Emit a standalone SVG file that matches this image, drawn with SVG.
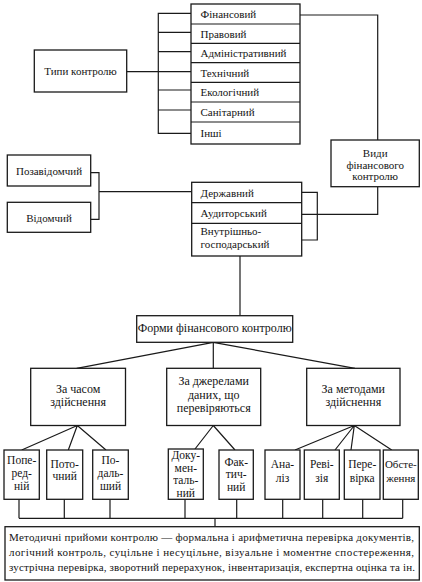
<svg xmlns="http://www.w3.org/2000/svg" width="422" height="582" viewBox="0 0 422 582">
<style>
.box{fill:#fff;stroke:#1a1a1a;stroke-width:1.3}
.ln{fill:none;stroke:#1a1a1a;stroke-width:1.2}
text{font-family:'Liberation Serif','DejaVu Serif',serif;font-size:11px;fill:#141414}
.c{text-anchor:middle}
.m{font-size:12px}
.l{font-size:11.5px}
</style>
<rect width="422" height="582" fill="#fff"/>
<g id="connectors">
<path class="ln" d="M191.7 13.3 H158.3 V133.3 H191.7 M158.3 32.3 H191.7 M158.3 51.7 H191.7 M158.3 90 H191.7 M158.3 110 H191.7"/>
<path class="ln" d="M126.7 71.7 H191.7"/>
<path class="ln" d="M300 15 H377.7 V140"/>
<path class="ln" d="M90.7 172.7 H99 V219.3 H90.7 M99 191.7 H191.7"/>
<path class="ln" d="M301.7 192.3 H317.3 V240 H301.7"/>
<path class="ln" d="M301.7 214.3 H377.7 V186.7"/>
<path class="ln" d="M240 256 V315.7"/>
<path class="ln" d="M213.3 342.3 L76.7 368.3 M213.3 342.3 V368.3 M213.3 342.3 L355 368.3"/>
<path class="ln" d="M77.3 425.5 L21.7 450 M77.3 425.5 L68.3 450 M77.3 425.5 L106 450"/>
<path class="ln" d="M213.3 425.5 L195 449 M213.3 425.5 L235 450"/>
<path class="ln" d="M354.3 425.5 L295 450 M354.3 425.5 L335 450 M354.3 425.5 L351 450 M354.3 425.5 L391.7 450"/>
<path class="ln" d="M19 499.3 V518.3 M64.3 499.3 V518.3 M110 499.3 V518.3 M185 499.3 V518.3 M236.7 499.3 V518.3 M282.7 499.3 V518.3 M322.7 499.3 V518.3 M362.7 499.3 V518.3 M402.7 499.3 V518.3 M19 518.3 H402.7 M215 518.3 V526.7"/>
</g>
<g id="types-list">
<rect class="box" x="191" y="4" width="109" height="140"/>
<path class="ln" d="M191 24 H300 M191 43.3 H300 M191 62.7 H300 M191 82.3 H300 M191 102 H300 M191 122 H300"/>
<text x="200.5" y="18">Фінансовий</text>
<text x="200.5" y="37.5">Правовий</text>
<text x="200.5" y="57">Адміністративний</text>
<text x="200.5" y="76.5">Технічний</text>
<text x="200.5" y="96">Екологічний</text>
<text x="200.5" y="115.8">Санітарний</text>
<text x="200.5" y="137">Інші</text>
</g>
<g id="types">
<rect class="box" x="34.3" y="50" width="92.4" height="42"/>
<text class="c" x="80.5" y="75">Типи контролю</text>
</g>
<g id="kinds">
<rect class="box" x="331" y="140" width="88.3" height="46.7"/>
<text class="c" x="375.2" y="157">Види</text>
<text class="c" x="375.2" y="168.5">фінансового</text>
<text class="c" x="375.2" y="180">контролю</text>
</g>
<g id="outside">
<rect class="box" x="7.3" y="155" width="83.4" height="31"/>
<text class="c" x="49" y="174.5">Позавідомчий</text>
</g>
<g id="internal-dept">
<rect class="box" x="7.3" y="202.3" width="83.4" height="30"/>
<text class="c" x="49" y="221.5">Відомчий</text>
</g>
<g id="kinds-list">
<rect class="box" x="191.7" y="182.3" width="110" height="73.7"/>
<path class="ln" d="M191.7 202.7 H301.7 M191.7 223.3 H301.7"/>
<text x="200.5" y="196.5">Державний</text>
<text x="200.5" y="217">Аудиторський</text>
<text x="200.5" y="234.5">Внутрішньо-</text>
<text x="200.5" y="248">господарський</text>
</g>
<g id="forms">
<rect class="box" x="136.7" y="315.7" width="156" height="26.6"/>
<text class="c m" x="214.7" y="331.5">Форми фінансового контролю</text>
</g>
<g id="by-time">
<rect class="box" x="30.7" y="368.3" width="94.8" height="57.2"/>
<text class="c m" x="78.1" y="393">За часом</text>
<text class="c m" x="78.1" y="406">здійснення</text>
</g>
<g id="by-sources">
<rect class="box" x="166.7" y="368.3" width="94" height="57.2"/>
<text class="c m" x="213.7" y="385">За джерелами</text>
<text class="c m" x="213.7" y="399">даних, що</text>
<text class="c m" x="213.7" y="412.3">перевіряються</text>
</g>
<g id="by-methods">
<rect class="box" x="306.7" y="368.3" width="93.3" height="57.2"/>
<text class="c m" x="353.3" y="393">За методами</text>
<text class="c m" x="353.3" y="406">здійснення</text>
</g>
<g id="preliminary">
<rect class="box" x="4" y="450" width="35.3" height="49.3"/>
<text class="c l" x="21.7" y="464">Попе-</text>
<text class="c l" x="21.7" y="477">ред-</text>
<text class="c l" x="21.7" y="490">ній</text>
</g>
<g id="current">
<rect class="box" x="46.7" y="450" width="36" height="49.3"/>
<text class="c l" x="64.7" y="467.5">Пото-</text>
<text class="c l" x="64.7" y="480">чний</text>
</g>
<g id="subsequent">
<rect class="box" x="92.7" y="450" width="35.6" height="49.3"/>
<text class="c l" x="110.5" y="464">По-</text>
<text class="c l" x="110.5" y="477">даль-</text>
<text class="c l" x="110.5" y="490">ший</text>
</g>
<g id="documentary">
<rect class="box" x="168.3" y="449" width="35" height="50.3"/>
<text class="c l" x="185.8" y="459">Доку-</text>
<text class="c l" x="185.8" y="471.5">мен-</text>
<text class="c l" x="185.8" y="484">таль-</text>
<text class="c l" x="185.8" y="496.5">ний</text>
</g>
<g id="factual">
<rect class="box" x="219" y="450" width="34.3" height="49.3"/>
<text class="c l" x="236.2" y="465.5">Фак-</text>
<text class="c l" x="236.2" y="478">тич-</text>
<text class="c l" x="236.2" y="490.5">ний</text>
</g>
<g id="analysis">
<rect class="box" x="265" y="450" width="35" height="49.3"/>
<text class="c l" x="282.5" y="467.5">Ана-</text>
<text class="c l" x="282.5" y="481.5">ліз</text>
</g>
<g id="revision">
<rect class="box" x="304.3" y="450" width="35" height="49.3"/>
<text class="c l" x="321.8" y="467.5">Реві-</text>
<text class="c l" x="321.8" y="481.5">зія</text>
</g>
<g id="check">
<rect class="box" x="344.3" y="450" width="35.7" height="49.3"/>
<text class="c l" x="362.2" y="467.5">Пере-</text>
<text class="c l" x="362.2" y="481.5">вірка</text>
</g>
<g id="inspection">
<rect class="box" x="383.3" y="450" width="35" height="49.3"/>
<text class="c" x="400.8" y="467.5">Обсте-</text>
<text class="c" x="400.8" y="481.5">ження</text>
</g>
<g id="methods">
<rect class="box" x="5" y="526.7" width="414.3" height="53.3"/>
<text x="9" y="540.5" textLength="405" lengthAdjust="spacing">Методичні прийоми контролю — формальна і арифметична перевірка документів,</text>
<text x="9" y="555.5" textLength="405" lengthAdjust="spacing">логічний контроль, суцільне і несуцільне, візуальне і моментне спостереження,</text>
<text x="9" y="570.5" textLength="406" lengthAdjust="spacing">зустрічна перевірка, зворотний перерахунок, інвентаризація, експертна оцінка та ін.</text>
</g>
</svg>
